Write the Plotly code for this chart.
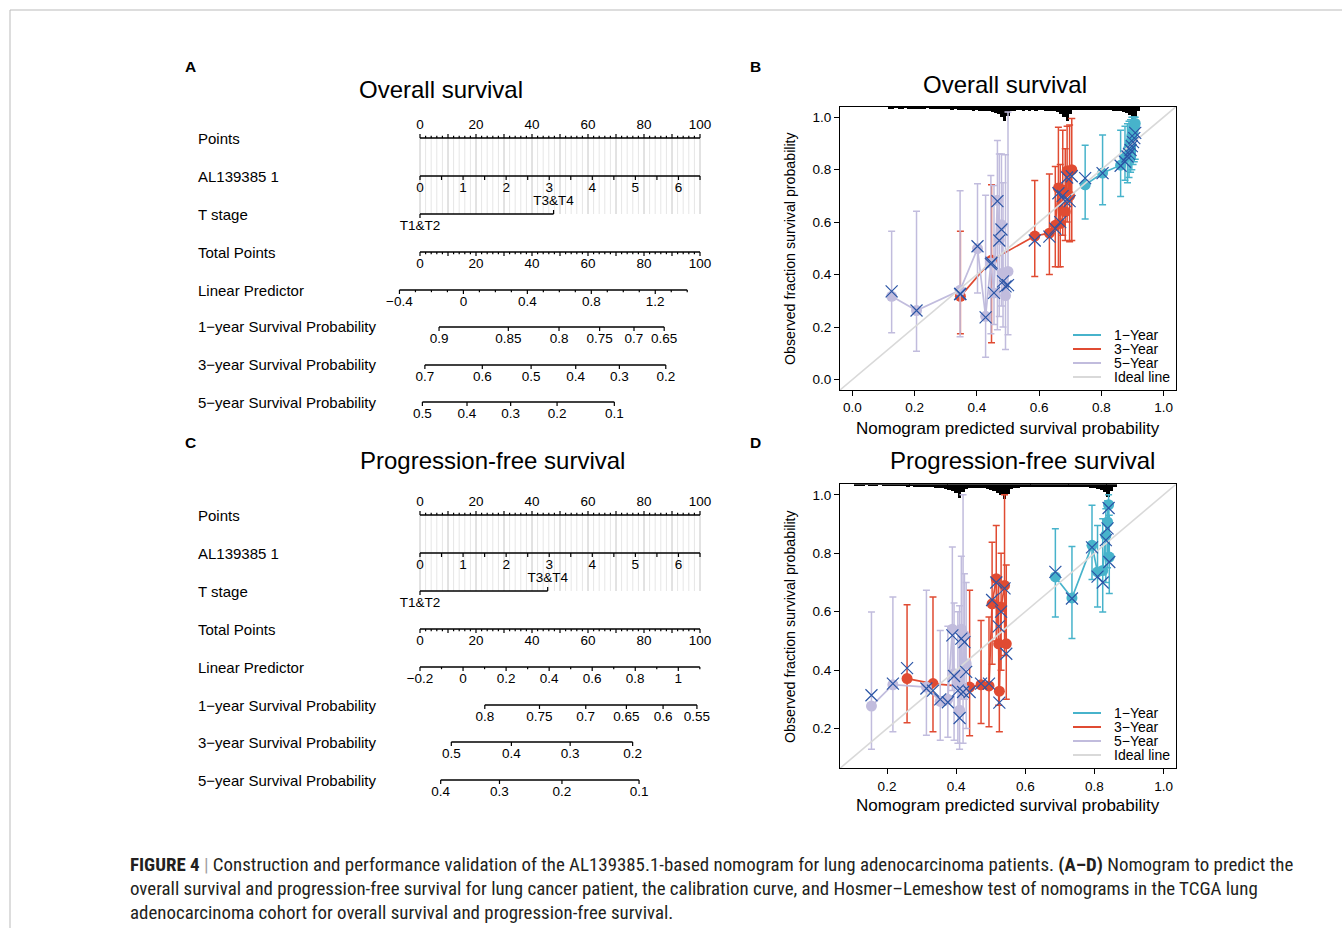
import math
import plotly.graph_objects as go

W, H = 1342, 928
FONT = "Liberation Sans, Arial, Helvetica, sans-serif"
CAP_FONT = "Liberation Sans Narrow, Roboto Condensed, Roboto, sans-serif"

# ---------------- Nomogram data ----------------
POINTS_LABELS = [0, 20, 40, 60, 80, 100]
AL_LABELS = [0, 1, 2, 3, 4, 5, 6]
AL_MAX = 6.5
T_LABELS = ["T1&T2", "T3&T4"]
TOTAL_LABELS = [0, 20, 40, 60, 80, 100]

# Overall survival nomogram
OS_T34_POINTS = 47.7
OS_LP_TICKS = [-0.4, -0.3, -0.2, -0.1, 0.0, 0.1, 0.2, 0.3, 0.4, 0.5, 0.6, 0.7, 0.8, 0.9, 1.0, 1.1, 1.2, 1.3, 1.4]
OS_LP_LABELS = [-0.4, 0.0, 0.4, 0.8, 1.2]
OS_LP_ZERO, OS_LP_SLOPE = 15.5, 57.1
OS_S1 = [0.9, 0.85, 0.8, 0.75, 0.7, 0.65]
OS_S3 = [0.7, 0.6, 0.5, 0.4, 0.3, 0.2]
OS_S5 = [0.5, 0.4, 0.3, 0.2, 0.1]
OS_BASE = {"1": -2.098, "3": -0.79, "5": -0.11}   # log(-log S0(t))

# Progression-free survival nomogram
PFS_T34_POINTS = 45.6
PFS_LP_TICKS = [-0.2, -0.1, 0.0, 0.1, 0.2, 0.3, 0.4, 0.5, 0.6, 0.7, 0.8, 0.9, 1.0, 1.1]
PFS_LP_LABELS = [-0.2, 0.0, 0.2, 0.4, 0.6, 0.8, 1.0]
PFS_LP_ZERO, PFS_LP_SLOPE = 15.375, 76.875
PFS_S1 = [0.8, 0.75, 0.7, 0.65, 0.6, 0.55]
PFS_S3 = [0.5, 0.4, 0.3, 0.2]
PFS_S5 = [0.4, 0.3, 0.2, 0.1]
PFS_BASE = {"1": -1.601, "3": -0.312, "5": 0.0164}

ROW_NAMES = ["Points", "AL139385 1", "T stage", "Total Points", "Linear Predictor",
             "1\u2212year Survival Probability", "3\u2212year Survival Probability",
             "5\u2212year Survival Probability"]

# ---------------- Calibration data (B: overall survival) ----------------
B_1Y_X = [0.748, 0.804, 0.862, 0.876, 0.884, 0.889, 0.894, 0.898, 0.902, 0.906, 0.909]
B_1Y_Y = [0.742, 0.787, 0.817, 0.845, 0.865, 0.883, 0.905, 0.928, 0.945, 0.962, 0.976]
B_1Y_HI = [0.893, 0.932, 0.950, 0.965, 0.975, 0.985, 0.990, 1.0, 1.0, 1.0, 1.0]
B_1Y_LO = [0.612, 0.666, 0.698, 0.760, 0.750, 0.770, 0.790, 0.800, 0.820, 0.830, 0.840]
B_1Y_C = [0.768, 0.787, 0.815, 0.830, 0.850, 0.860, 0.875, 0.890, 0.905, 0.920, 0.940]

B_3Y_X = [0.347, 0.447, 0.586, 0.633, 0.652, 0.662, 0.668, 0.676, 0.684, 0.690, 0.698, 0.705]
B_3Y_Y = [0.317, 0.455, 0.547, 0.558, 0.588, 0.730, 0.595, 0.722, 0.640, 0.795, 0.700, 0.800]
B_3Y_HI = [0.565, 0.742, 0.759, 0.783, 0.812, 0.962, 0.820, 0.950, 0.880, 0.965, 0.970, 0.995]
B_3Y_LO = [0.174, 0.140, 0.393, 0.400, 0.430, 0.430, 0.430, 0.550, 0.530, 0.600, 0.525, 0.530]
B_3Y_C = [0.326, 0.445, 0.530, 0.545, 0.575, 0.710, 0.600, 0.700, 0.680, 0.770, 0.680, 0.775]

B_5Y_X = [0.126, 0.206, 0.346, 0.402, 0.428, 0.445, 0.455, 0.466, 0.472, 0.479, 0.484, 0.492, 0.500]
B_5Y_Y = [0.317, 0.263, 0.340, 0.499, 0.241, 0.444, 0.330, 0.683, 0.533, 0.590, 0.406, 0.320, 0.412]
B_5Y_HI = [0.565, 0.641, 0.720, 0.746, 0.702, 0.778, 0.740, 0.911, 0.860, 0.860, 0.750, 0.857, 1.020]
B_5Y_LO = [0.178, 0.108, 0.163, 0.330, 0.085, 0.174, 0.210, 0.190, 0.240, 0.280, 0.200, 0.114, 0.171]
B_5Y_C = [0.336, 0.263, 0.326, 0.508, 0.237, 0.440, 0.330, 0.680, 0.530, 0.572, 0.374, 0.355, 0.360]

B_RUG_START = 0.12
B_RUG = [2, 2, 1, 2, 2, 1, 2, 2, 2,
         2, 2, 2, 1, 2, 2, 2, 2, 2, 2,
         2, 3, 2, 3, 3, 3, 3, 3, 4, 3,
         4, 4, 4, 4, 5, 6, 7, 10, 14, 9,
         4, 4, 3, 3, 4, 3, 4, 3, 4, 3,
         3, 4, 4, 4, 4, 5, 7, 10, 14, 7,
         3, 3, 3, 3, 3, 3, 3, 3, 3, 3,
         3, 3, 3, 4, 4, 4, 5, 6, 8, 14, 10, 4]

# ---------------- Calibration data (D: progression-free survival) ----------------
D_1Y_X = [0.687, 0.735, 0.793, 0.809, 0.824, 0.833, 0.838, 0.841, 0.843]
D_1Y_Y = [0.719, 0.647, 0.827, 0.736, 0.741, 0.861, 0.907, 0.966, 0.787]
D_1Y_HI = [0.884, 0.823, 0.964, 0.895, 0.918, 0.952, 0.980, 1.000, 0.930]
D_1Y_LO = [0.582, 0.508, 0.710, 0.616, 0.599, 0.700, 0.750, 0.800, 0.662]
D_1Y_C = [0.736, 0.645, 0.820, 0.720, 0.700, 0.845, 0.885, 0.955, 0.770]

D_3Y_X = [0.258, 0.333, 0.439, 0.472, 0.495, 0.504, 0.516, 0.523, 0.525, 0.530, 0.540, 0.545]
D_3Y_Y = [0.371, 0.354, 0.342, 0.350, 0.346, 0.627, 0.713, 0.490, 0.328, 0.616, 0.690, 0.490]
D_3Y_HI = [0.624, 0.650, 0.673, 0.570, 0.582, 0.838, 0.895, 0.720, 0.490, 0.800, 1.000, 0.760]
D_3Y_LO = [0.220, 0.189, 0.175, 0.217, 0.206, 0.420, 0.500, 0.280, 0.189, 0.400, 0.450, 0.300]
D_3Y_C = [0.407, 0.330, 0.325, 0.354, 0.354, 0.640, 0.700, 0.550, 0.289, 0.600, 0.680, 0.456]

D_5Y_X = [0.155, 0.217, 0.314, 0.354, 0.376, 0.389, 0.394, 0.405, 0.410, 0.415, 0.420, 0.424, 0.429]
D_5Y_Y = [0.277, 0.350, 0.342, 0.293, 0.300, 0.540, 0.388, 0.354, 0.263, 0.540, 0.337, 0.519, 0.422]
D_5Y_HI = [0.599, 0.650, 0.673, 0.536, 0.550, 0.821, 0.630, 0.600, 0.620, 0.790, 1.000, 0.730, 0.700]
D_5Y_LO = [0.129, 0.189, 0.177, 0.160, 0.170, 0.330, 0.160, 0.150, 0.129, 0.300, 0.150, 0.300, 0.200]
D_5Y_C = [0.314, 0.354, 0.337, 0.300, 0.290, 0.519, 0.380, 0.330, 0.236, 0.508, 0.325, 0.496, 0.394]

D_RUG_START = 0.11
D_RUG = [2, 2, 2, 1, 2, 2, 2, 1, 2, 2,
         2, 2, 2, 2, 2, 3, 2, 3, 3, 3,
         3, 3, 3, 4, 4, 4, 5, 6, 7, 9,
         14, 8, 5, 4, 4, 4, 4, 4, 5, 6,
         7, 9, 11, 15, 10, 5, 4, 4, 3, 3,
         3, 3, 3, 3, 3, 3, 3, 3, 3, 3,
         3, 3, 3, 3, 3, 3, 3, 3, 4, 4,
         5, 6, 8, 13, 7, 3]

LEGEND_LABELS = ["1\u2212Year", "3\u2212Year", "5\u2212Year", "Ideal line"]

CAPTION = [
    "<b>FIGURE 4</b> <span style='color:#a0a0a0'>|</span> Construction and performance validation of the AL139385.1-based nomogram for lung adenocarcinoma patients. <b>(A\u2013D)</b> Nomogram to predict the",
    "overall survival and progression-free survival for lung cancer patient, the calibration curve, and Hosmer\u2013Lemeshow test of nomograms in the TCGA lung",
    "adenocarcinoma cohort for overall survival and progression-free survival.",
]

# ---------------- styles ----------------
TEAL = "#47B3CB"
RED = "#E04B32"
LAV = "#C1BCDD"
XBLUE = "#2B55A6"
IDEAL = "#D9D9D9"

fig = go.Figure()


def px_x(px):
    return px / W


def px_y(py):
    return 1 - py / H


def ann(text, x, y, size, xanchor="center", yanchor="middle", angle=0, color="black", family=FONT):
    fig.add_annotation(text=text, x=px_x(x), y=px_y(y), xref="paper", yref="paper",
                       xanchor=xanchor, yanchor=yanchor, showarrow=False, textangle=angle,
                       font=dict(size=size, color=color, family=family))


def fmt(v):
    s = ("%g" % v)
    return s.replace("-", "\u2212")


# ---------------- nomogram drawing ----------------
def nomo_row(xa, ya, y0, tick_pts, majors, label_pts, label_txt, tick_dir, label_dir,
             lmaj=4.0, lmin=2.2, span=None):
    xs = span if span is not None else [min(tick_pts), max(tick_pts)]
    fig.add_trace(go.Scatter(x=xs, y=[y0, y0], mode="lines", line=dict(color="black", width=1.3),
                             xaxis=xa, yaxis=ya, hoverinfo="skip", cliponaxis=False))
    tx, ty = [], []
    for p, m in zip(tick_pts, majors):
        L = lmaj if m else lmin
        tx += [p, p, None]
        ty += [y0, y0 + tick_dir * L, None]
    fig.add_trace(go.Scatter(x=tx, y=ty, mode="lines", line=dict(color="black", width=1.2),
                             xaxis=xa, yaxis=ya, hoverinfo="skip", cliponaxis=False))
    fig.add_trace(go.Scatter(x=label_pts, y=[y0 + label_dir * 12.5] * len(label_pts), mode="text",
                             text=label_txt, textposition="middle center",
                             textfont=dict(size=13.5, color="black", family=FONT),
                             xaxis=xa, yaxis=ya, hoverinfo="skip", cliponaxis=False))


def is_in(v, arr):
    return any(abs(v - a) < 1e-9 for a in arr)


def draw_nomogram(xa, ya, rows_y, t34, lp_ticks, lp_labels, lp_zero, lp_slope, s1, s3, s5, base, title, title_x, title_y):
    # grid lines from Points to T stage
    minor = [p for p in range(0, 101, 2) if p % 10 != 0]
    major = [p for p in range(0, 101, 10)]
    for vals, col in ((minor, "#E6E6E6"), (major, "#C6C6C6")):
        gx, gy = [], []
        for p in vals:
            gx += [p, p, None]
            gy += [rows_y[0], rows_y[2], None]
        fig.add_trace(go.Scatter(x=gx, y=gy, mode="lines", line=dict(color=col, width=1),
                                 xaxis=xa, yaxis=ya, hoverinfo="skip"))
    pts_ticks = list(range(0, 101, 2))
    # Points
    nomo_row(xa, ya, rows_y[0], pts_ticks, [p % 10 == 0 for p in pts_ticks],
             POINTS_LABELS, [str(v) for v in POINTS_LABELS], -1, -1)
    # AL139385 1
    al_vals = [i * 0.5 for i in range(int(AL_MAX * 2) + 1)]
    al_pts = [v * 100 / AL_MAX for v in al_vals]
    nomo_row(xa, ya, rows_y[1], al_pts, [True] * len(al_pts),
             [v * 100 / AL_MAX for v in AL_LABELS], [str(v) for v in AL_LABELS], 1, 1)
    # T stage
    y0 = rows_y[2]
    fig.add_trace(go.Scatter(x=[0, t34], y=[y0, y0], mode="lines", line=dict(color="black", width=1.3),
                             xaxis=xa, yaxis=ya, hoverinfo="skip"))
    fig.add_trace(go.Scatter(x=[0, 0, None, t34, t34], y=[y0, y0 + 4, None, y0, y0 - 4], mode="lines",
                             line=dict(color="black", width=1.2), xaxis=xa, yaxis=ya, hoverinfo="skip"))
    fig.add_trace(go.Scatter(x=[0, t34], y=[y0 + 12.5, y0 - 12.5], mode="text", text=T_LABELS,
                             textfont=dict(size=13.5, color="black", family=FONT),
                             xaxis=xa, yaxis=ya, hoverinfo="skip", cliponaxis=False))
    # Total points
    nomo_row(xa, ya, rows_y[3], pts_ticks, [p % 10 == 0 for p in pts_ticks],
             TOTAL_LABELS, [str(v) for v in TOTAL_LABELS], 1, 1)
    # Linear predictor
    lp_pts = [lp_zero + lp_slope * v for v in lp_ticks]
    nomo_row(xa, ya, rows_y[4], lp_pts, [is_in(v, lp_labels) for v in lp_ticks],
             [lp_zero + lp_slope * v for v in lp_labels], [fmt(v) for v in lp_labels], 1, 1)
    # survival probabilities
    for k, (probs, key) in enumerate(((s1, "1"), (s3, "3"), (s5, "5"))):
        sp = [lp_zero + lp_slope * (math.log(-math.log(p)) - base[key]) for p in probs]
        nomo_row(xa, ya, rows_y[5 + k], sp, [True] * len(sp), sp, [("%g" % p) for p in probs], 1, 1)
    for name, y in zip(ROW_NAMES, rows_y):
        ann(name, 196, y, 15, xanchor="left")
    ann(title, title_x, title_y, 24)


# ---------------- calibration drawing ----------------
def draw_calibration(xa, ya, series, rug, rug_start, rng, px_per_unit):
    rx = [rug_start + 0.01 * i for i in range(len(rug))]
    fig.add_trace(go.Bar(x=rx, y=[-c / px_per_unit for c in rug], base=rng[1], width=0.0102,
                         marker=dict(color="black", line=dict(width=0)), xaxis=xa, yaxis=ya,
                         hoverinfo="skip"))
    for xs, ys, hi, lo, _c, col in series:
        fig.add_trace(go.Scatter(
            x=xs, y=ys, mode="lines+markers", xaxis=xa, yaxis=ya,
            line=dict(color=col, width=1.7),
            marker=dict(size=11, color=col, line=dict(width=0)),
            error_y=dict(type="data", symmetric=False,
                         array=[h - y for h, y in zip(hi, ys)],
                         arrayminus=[y - l for y, l in zip(ys, lo)],
                         color=col, thickness=1.5, width=3.5),
            hoverinfo="skip"))
    fig.add_trace(go.Scatter(x=list(rng), y=list(rng), mode="lines", line=dict(color=IDEAL, width=1.6),
                             xaxis=xa, yaxis=ya, hoverinfo="skip"))
    for xs, ys, hi, lo, cs, col in series:
        fig.add_trace(go.Scatter(x=xs, y=cs, mode="markers", xaxis=xa, yaxis=ya,
                                 marker=dict(symbol="x-thin", size=12, line=dict(width=1.2, color=XBLUE)),
                                 hoverinfo="skip"))


# --- Panel A
ROWS_A = [138, 176, 214, 252, 290, 327, 365, 402]
draw_nomogram("x", "y", ROWS_A, OS_T34_POINTS, OS_LP_TICKS, OS_LP_LABELS, OS_LP_ZERO, OS_LP_SLOPE,
              OS_S1, OS_S3, OS_S5, OS_BASE, "Overall survival", 441, 90)
# --- Panel C
ROWS_C = [515, 553, 591, 629, 667, 705, 742, 780]
draw_nomogram("x3", "y3", ROWS_C, PFS_T34_POINTS, PFS_LP_TICKS, PFS_LP_LABELS, PFS_LP_ZERO, PFS_LP_SLOPE,
              PFS_S1, PFS_S3, PFS_S5, PFS_BASE, "Progression-free survival", 492, 460)

# --- Panel B
B_RANGE = (-0.04, 1.04)
draw_calibration("x2", "y2", [
    (B_1Y_X, B_1Y_Y, B_1Y_HI, B_1Y_LO, B_1Y_C, TEAL),
    (B_3Y_X, B_3Y_Y, B_3Y_HI, B_3Y_LO, B_3Y_C, RED),
    (B_5Y_X, B_5Y_Y, B_5Y_HI, B_5Y_LO, B_5Y_C, LAV),
], B_RUG, B_RUG_START, B_RANGE, 262.5)

# --- Panel D
D_RANGE = (0.064, 1.036)
draw_calibration("x4", "y4", [
    (D_1Y_X, D_1Y_Y, D_1Y_HI, D_1Y_LO, D_1Y_C, TEAL),
    (D_3Y_X, D_3Y_Y, D_3Y_HI, D_3Y_LO, D_3Y_C, RED),
    (D_5Y_X, D_5Y_Y, D_5Y_HI, D_5Y_LO, D_5Y_C, LAV),
], D_RUG, D_RUG_START, D_RANGE, 292.3)

# ---------------- axes ----------------
nomo_x = dict(range=[(380 - 420) / 2.8, (720 - 420) / 2.8], domain=[px_x(380), px_x(720)], visible=False)
fig.update_layout(
    xaxis=dict(nomo_x, anchor="y"),
    yaxis=dict(range=[440, 100], domain=[px_y(440), px_y(100)], visible=False, anchor="x"),
    xaxis3=dict(nomo_x, anchor="y3"),
    yaxis3=dict(range=[816, 476], domain=[px_y(816), px_y(476)], visible=False, anchor="x3"),
)

cal_common = dict(showline=True, linecolor="black", linewidth=1, mirror=True, ticks="outside",
                  ticklen=5, tickwidth=1, tickcolor="black", showgrid=False, zeroline=False,
                  tickformat=".1f", tickfont=dict(size=13.5, family=FONT, color="black"))
fig.update_layout(
    xaxis2=dict(cal_common, range=list(B_RANGE), domain=[px_x(840), px_x(1176)], anchor="y2",
                tickvals=[0, 0.2, 0.4, 0.6, 0.8, 1.0]),
    yaxis2=dict(cal_common, range=list(B_RANGE), domain=[px_y(390), px_y(106.7)], anchor="x2",
                tickvals=[0, 0.2, 0.4, 0.6, 0.8, 1.0]),
    xaxis4=dict(cal_common, range=list(D_RANGE), domain=[px_x(840), px_x(1176)], anchor="y4",
                tickvals=[0.2, 0.4, 0.6, 0.8, 1.0]),
    yaxis4=dict(cal_common, range=list(D_RANGE), domain=[px_y(768.3), px_y(484.3)], anchor="x4",
                tickvals=[0.2, 0.4, 0.6, 0.8, 1.0]),
)

# ---------------- text, legends, frame ----------------
for letter, x, y in (("A", 190, 67), ("B", 756, 67), ("C", 190, 443), ("D", 756, 443)):
    ann("<b>%s</b>" % letter, x, y, 15.5)

ann("Overall survival", 1005, 84, 24)
ann("Progression-free survival", 1022, 460, 24)
for yc, xt in ((248, 428), (626, 805)):
    ann("Observed fraction survival probability", 790, yc, 14.2, angle=-90)
    ann("Nomogram predicted survival probability", 1008, xt, 17)

shapes = []
for y_rows in ((335, 349, 363, 377), (713, 727, 741, 755)):
    for lab, col, yy in zip(LEGEND_LABELS, (TEAL, RED, LAV, IDEAL), y_rows):
        shapes.append(dict(type="line", xref="paper", yref="paper", x0=px_x(1073), x1=px_x(1101),
                           y0=px_y(yy), y1=px_y(yy), line=dict(color=col, width=2)))
        ann(lab, 1112, yy, 14, xanchor="left")

shapes.append(dict(type="rect", xref="paper", yref="paper", x0=px_x(10), x1=1.05, y0=-0.05, y1=px_y(10),
                   line=dict(color="#BBBBBB", width=1)))

for line, yy in zip(CAPTION, (864, 888, 912)):
    ann(line, 128, yy, 18.9, xanchor="left", color="#231F20", family=CAP_FONT)

fig.update_layout(
    width=W, height=H, margin=dict(l=0, r=0, t=0, b=0),
    paper_bgcolor="white", plot_bgcolor="white", showlegend=False,
    shapes=shapes, bargap=0,
)

fig.write_html("out.html", config={"displayModeBar": False},
               post_script="document.body.style.margin='0';document.body.style.overflow='hidden';")
